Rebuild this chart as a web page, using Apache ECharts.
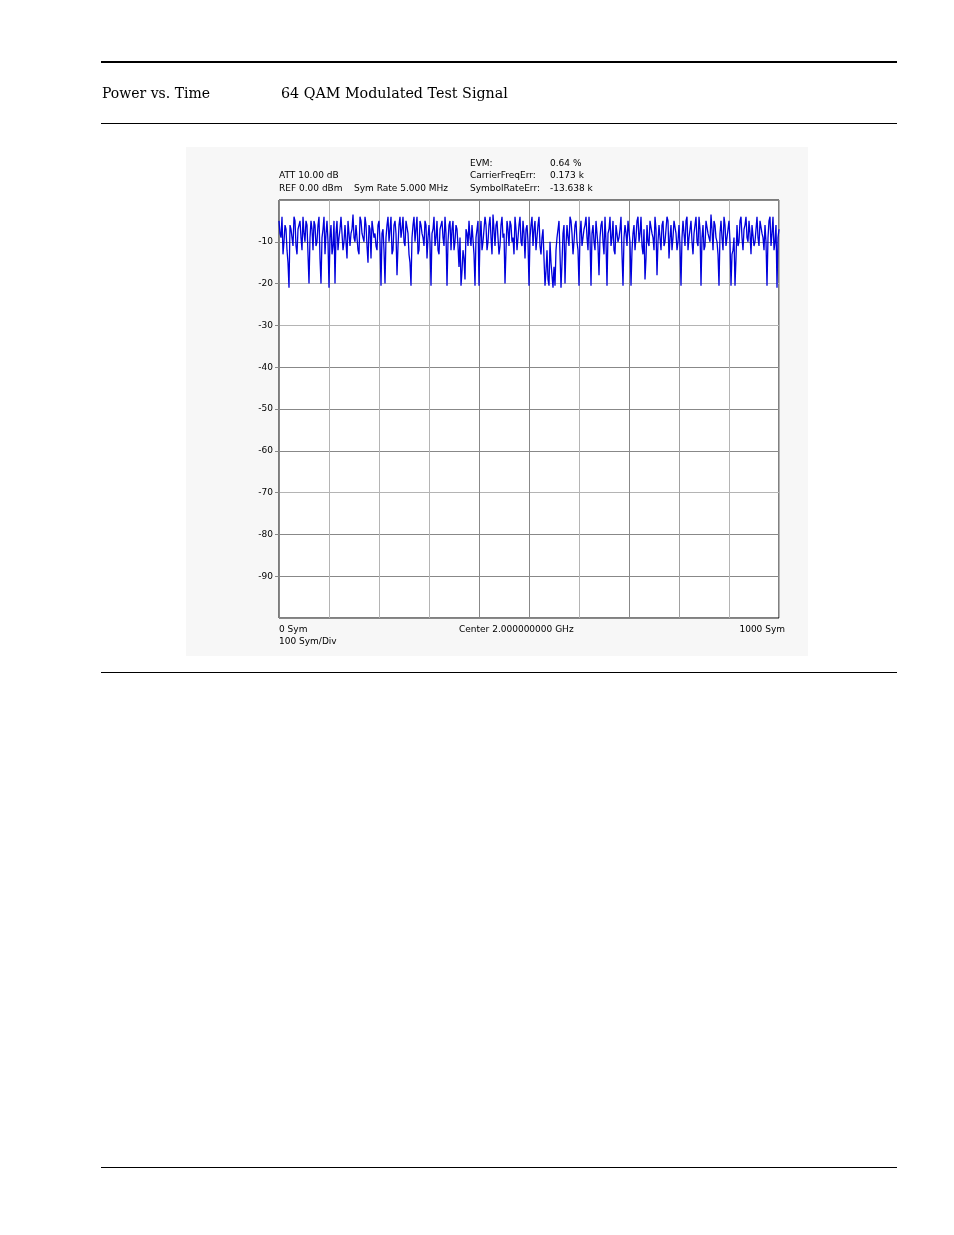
<!DOCTYPE html>
<html>
<head>
<meta charset="utf-8">
<script src="https://cdn.jsdelivr.net/npm/echarts@6/dist/echarts.min.js"></script>
<style>
html,body{margin:0;padding:0;background:#fff;}
#c{width:954px;height:1235px;}
</style>
</head>
<body>
<div id="c"></div>
<script>
// Measured power (dB) at symbols 0,4,8,...,1000
const powerDbEven = [
 -5,-9,-13,-6,-12,-21,-7,-11,-5,-13,-6,-9,-4,-10,-6,-20,-5,-12,-6,-10,-4,-20,-7,-13,-5,
 -21,-6,-11,-20,-5,-9,-4,-12,-6,-14,-5,-8,-3.5,-10,-6,-13,-5,-9,-4,-11,-6,-14,-5,-8,-12,
 -5,-20.5,-7,-20,-6,-10,-4,-12,-5,-18,-6,-9,-4,-11,-5,-13,-20.5,-6,-10,-4,-12,-6,-9,-5,-14,
 -6,-20.5,-7,-11,-5,-13,-6,-9,-4,-20.5,-6,-12,-5,-10,-7,-16,-20.5,-12,-19,-8,-5,-11,-6,-20.5,-7,
 -20.5,-5,-10,-4,-12,-6,-9,-3.5,-11,-5,-13,-6,-9,-20,-5,-11,-6,-9,-4,-12,-6,-10,-5,-14,-6,
 -20.5,-6,-11,-5,-9,-4,-13,-7,-20.5,-12,-20.5,-15,-21,-20.5,-9,-5,-21,-8,-20,-6,-11,-5,-13,-6,-10,
 -20.5,-5,-11,-6,-9,-4,-20.5,-6,-12,-5,-18,-6,-10,-4,-20.5,-7,-11,-5,-13,-6,-9,-4,-20.5,-6,-11,
 -5,-20.5,-8,-12,-5,-10,-4,-13,-19,-6,-11,-5,-9,-4,-18,-6,-12,-5,-10,-4,-14,-6,-9,-5,-12,
 -6,-20.5,-5,-11,-4,-9,-5,-13,-6,-10,-4,-20.5,-6,-11,-5,-9,-3.5,-12,-6,-10,-20.5,-5,-12,-6,-9,
 -5,-20.5,-12,-20.5,-6,-10,-4,-12,-6,-9,-5,-13,-6,-10,-4,-11,-5,-9,-6,-20.5,-5,-11,-4,-10,-21,
 -7
];
// Measured power (dB) at symbols 2,6,10,...,998
const powerDbOdd = [
 -8,-4,-10,-7,-15,-6,-9,-4,-11,-7,-5,-12,-8,-5,-13,-9,-7,-5,-11,-6,-14,-9,-4,-8,-10,
 -9,-13,-5,-8,-12,-7,-4,-10,-6,-5,-11,-7,-9,-6,-12,-4,-8,-10,-6,-15,-7,-5,-9,-11,-6,
 -10,-8,-12,-9,-4,-7,-13,-6,-8,-11,-4,-7,-10,-5,-8,-15,-9,-4,-7,-13,-5,-8,-11,-6,-9,
 -10,-8,-4,-9,-12,-7,-5,-11,-8,-10,-5,-7,-12,-6,-11,-9,-17,-14,-7,-11,-9,-6,-13,-9,-5,
 -9,-12,-7,-6,-10,-4,-13,-7,-6,-9,-11,-4,-8,-12,-7,-5,-10,-13,-7,-9,-4,-11,-8,-7,-10,
 -9,-4,-7,-12,-6,-11,-9,-14,-17,-19,-10,-18,-16,-12,-7,-13,-15,-6,-11,-9,-4,-8,-10,-5,-12,
 -8,-11,-7,-4,-12,-9,-8,-10,-5,-11,-9,-5,-13,-10,-8,-4,-9,-12,-6,-10,-7,-13,-9,-8,-5,
 -10,-12,-6,-9,-4,-8,-11,-7,-14,-10,-5,-8,-12,-7,-10,-9,-6,-11,-7,-5,-9,-12,-5,-8,-10,
 -11,-9,-8,-5,-12,-7,-10,-8,-4,-11,-7,-9,-12,-5,-8,-10,-7,-5,-9,-13,-8,-9,-4,-11,-7,
 -10,-13,-9,-14,-11,-5,-9,-7,-4,-10,-8,-6,-11,-7,-9,-5,-8,-12,-10,-9,-4,-8,-12,-6,-9
];
const yTicks = [-10,-20,-30,-40,-50,-60,-70,-80,-90];
const headerLeft = 'Power vs. Time';
const headerRight = '64 QAM Modulated Test Signal';
const infoLeft = ['ATT 10.00 dB', 'REF 0.00 dBm'];
const symRate = 'Sym Rate 5.000 MHz';
const infoLabels = ['EVM:', 'CarrierFreqErr:', 'SymbolRateErr:'];
const infoValues = ['0.64 %', '0.173 k', '-13.638 k'];
const xStart = '0 Sym', xCenter = 'Center 2.000000000 GHz', xEnd = '1000 Sym', xDiv = '100 Sym/Div';

const data = [];
for (let i = 0; i < powerDbEven.length; i++) {
  data.push([i * 4, powerDbEven[i]]);
  if (i < powerDbOdd.length) data.push([i * 4 + 2, powerDbOdd[i]]);
}

const chart = echarts.init(document.getElementById('c'), null, {renderer: 'canvas'});
const sans = '"DejaVu Sans", sans-serif';
const serif = '"DejaVu Serif", serif';
const small = {fontFamily: sans, fontSize: 9, fill: '#000'};

function txt(x, y, s, extra) {
  return {type: 'text', x: x, y: y, style: Object.assign({text: s, textVerticalAlign: 'middle'}, small, extra || {})};
}

const g = [
  {type: 'rect', shape: {x: 101, y: 61, width: 796, height: 2}, style: {fill: '#000'}},
  {type: 'rect', shape: {x: 101, y: 123, width: 796, height: 1}, style: {fill: '#000'}},
  {type: 'rect', shape: {x: 101, y: 672, width: 796, height: 1}, style: {fill: '#000'}},
  {type: 'rect', shape: {x: 101, y: 1167, width: 796, height: 1}, style: {fill: '#000'}},
  {type: 'text', x: 102, y: 94, style: {text: headerLeft, fontFamily: serif, fontSize: 14, fill: '#000', textVerticalAlign: 'middle'}},
  {type: 'text', x: 281, y: 94, style: {text: headerRight, fontFamily: serif, fontSize: 14.3, fill: '#000', textVerticalAlign: 'middle'}},
  {type: 'rect', z: -10, shape: {x: 186, y: 147, width: 622, height: 509}, style: {fill: '#f7f7f7'}},
  txt(279, 176, infoLeft[0]),
  txt(279, 189, infoLeft[1]),
  txt(354, 189, symRate),
  txt(470, 164, infoLabels[0]),
  txt(470, 176, infoLabels[1]),
  txt(470, 189, infoLabels[2]),
  txt(550, 164, infoValues[0]),
  txt(550, 176, infoValues[1]),
  txt(550, 189, infoValues[2]),
  txt(279, 630, xStart),
  txt(459, 630, xCenter),
  txt(785, 630, xEnd, {textAlign: 'right'}),
  txt(279, 642, xDiv)
];

chart.setOption({
  animation: false,
  backgroundColor: '#fff',
  graphic: g,
  grid: {left: 279, top: 200, width: 500, height: 418, show: true, backgroundColor: '#fff', borderColor: '#000', borderWidth: 1, z: 0},
  xAxis: {
    type: 'value', min: 0, max: 1000, interval: 100,
    axisLine: {show: false}, axisTick: {show: false}, axisLabel: {show: false},
    splitLine: {show: true, lineStyle: {width: 1, color: ['#888', '#b4b4b4', '#b4b4b4', '#b4b4b4', '#888', '#888', '#b4b4b4', '#888', '#a0a0a0', '#b4b4b4', '#b4b4b4']}}
  },
  yAxis: [{
    type: 'value', min: -100, max: 0, interval: 10,
    axisLine: {show: false},
    axisTick: {show: false},
    axisLabel: {fontFamily: sans, fontSize: 9, color: '#000', margin: 6,
      formatter: v => (yTicks.indexOf(v) >= 0 ? String(v) : '')},
    splitLine: {show: true, lineStyle: {width: 1, color: ['#888', '#888', '#888', '#b4b4b4', '#888', '#888', '#888', '#b4b4b4', '#b4b4b4', '#888', '#888']}}
  }, {
    type: 'value', min: -100, max: 0, interval: 10, position: 'left',
    axisLine: {show: false}, axisLabel: {show: false}, splitLine: {show: false},
    axisTick: {show: true, length: 4, customValues: yTicks, lineStyle: {color: '#888'}}
  }],
  series: [{
    type: 'line', data: data, symbol: 'none', silent: true,
    lineStyle: {color: '#0000dc', width: 1.3}, z: 3
  }]
});
</script>
</body>
</html>
